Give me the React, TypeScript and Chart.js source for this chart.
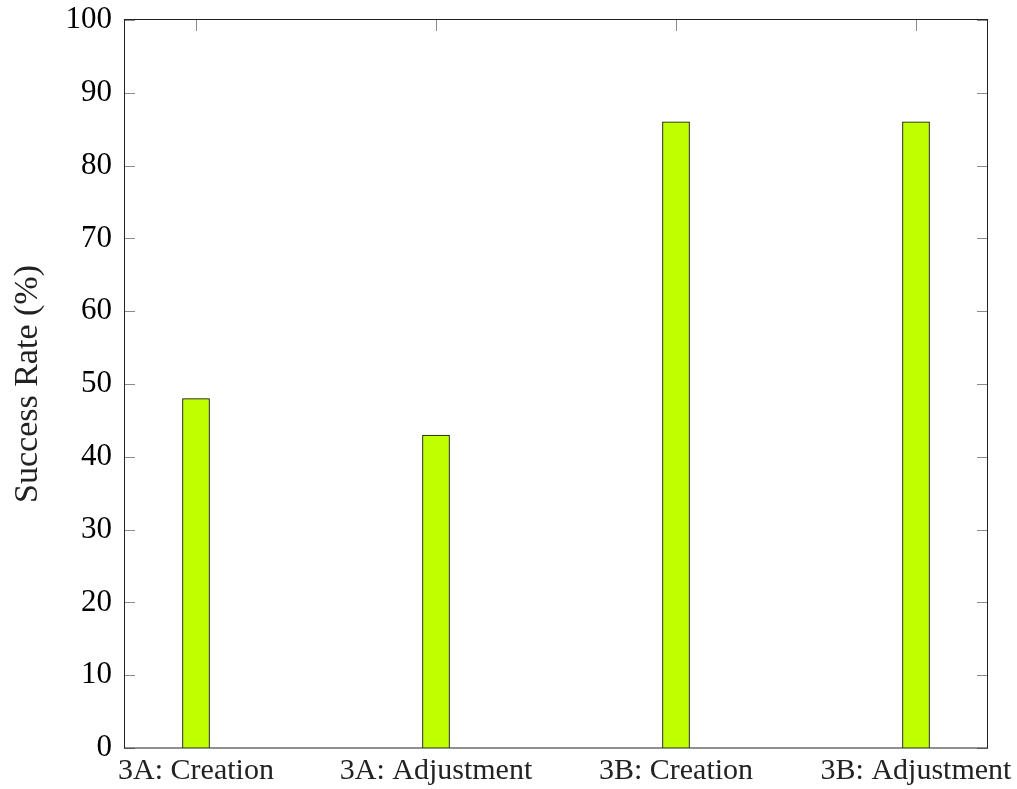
import React, { useEffect, useRef } from "react";
import { Chart, registerables } from "chart.js";

Chart.register(...registerables);

const categories = ["3A: Creation", "3A: Adjustment", "3B: Creation", "3B: Adjustment"];
const successRates = [48, 43, 86, 86];
const yTicks = [0, 10, 20, 30, 40, 50, 60, 70, 80, 90, 100];

const SERIF = "'Liberation Serif', 'DejaVu Serif', serif";

const framePlugin = {
  id: "pgfFrame",
  beforeDatasetsDraw(chart: any) {
    const { ctx, chartArea } = chart;
    const { left, right, top, bottom } = chartArea;
    const xs = chart.scales.x;
    const ys = chart.scales.y;
    const len = 11;
    ctx.save();
    ctx.strokeStyle = "#8a8a8a";
    ctx.lineWidth = 1;
    ctx.beginPath();
    yTicks.forEach((t) => {
      const y = Math.round(ys.getPixelForValue(t)) + 0.5;
      ctx.moveTo(left, y);
      ctx.lineTo(left + len, y);
      ctx.moveTo(right, y);
      ctx.lineTo(right - len, y);
    });
    categories.forEach((_, i) => {
      const x = Math.round(xs.getPixelForValue(i)) + 0.5;
      ctx.moveTo(x, top);
      ctx.lineTo(x, top + len);
      ctx.moveTo(x, bottom);
      ctx.lineTo(x, bottom - len);
    });
    ctx.stroke();
    ctx.restore();
  },
  afterDatasetsDraw(chart: any) {
    const { ctx, chartArea } = chart;
    const { left, right, top, bottom } = chartArea;
    ctx.save();
    ctx.strokeStyle = "#222";
    ctx.lineWidth = 1;
    ctx.strokeRect(Math.round(left) + 0.5, Math.round(top) - 0.5, Math.round(right - left) - 1, Math.round(bottom - top) + 0.5);
    ctx.restore();
  },
};

export default function App() {
  const ref = useRef<HTMLCanvasElement | null>(null);
  useEffect(() => {
    if (!ref.current) return;
    const chart = new Chart(ref.current, {
      type: "bar",
      data: {
        datasets: [
          {
            data: successRates.map((v, i) => ({ x: i, y: v })),
            backgroundColor: "#bfff00",
            borderColor: "#000",
            borderWidth: 1,
            barThickness: 27,
          } as any,
        ],
      },
      options: {
        animation: false,
        responsive: false,
        devicePixelRatio: 1,
        layout: { padding: { top: 20, right: 29, left: 0, bottom: 0 } },
        plugins: { legend: { display: false }, tooltip: { enabled: false } },
        scales: {
          x: {
            type: "linear",
            min: -0.3,
            max: 3.3,
            offset: false,
            grid: { display: false, drawTicks: false, offset: false },
            border: { display: false },
            afterBuildTicks: (scale: any) => {
              scale.ticks = categories.map((_, i) => ({ value: i }));
            },
            afterFit: (scale: any) => {
              scale.height = 41;
              scale.paddingLeft = 0;
              scale.paddingRight = 0;
            },
            ticks: {
              autoSkip: false,
              maxRotation: 0,
              padding: 5,
              color: "#222",
              font: { family: SERIF, size: 30 },
              callback: (v: any) => categories[v as number] ?? "",
            },
          },
          y: {
            min: 0,
            max: 100,
            grid: { display: false, drawTicks: false },
            border: { display: false },
            afterFit: (scale: any) => {
              scale.width = 124;
              scale.paddingTop = 0;
              scale.paddingBottom = 0;
            },
            ticks: {
              stepSize: 10,
              padding: 12,
              color: "#000",
              font: { family: SERIF, size: 31 },
            },
            title: {
              display: true,
              text: "Success Rate (%)",
              color: "#222",
              font: { family: SERIF, size: 34 },
              padding: { top: 8, bottom: 0 },
            },
          },
        },
      },
      plugins: [framePlugin],
    });
    return () => chart.destroy();
  }, []);
  return (
    <div style={{ position: "absolute", left: 0, top: 0, width: 1017, height: 789, background: "#fff" }}>
      <canvas ref={ref} width={1017} height={789} style={{ display: "block" }} />
    </div>
  );
}
